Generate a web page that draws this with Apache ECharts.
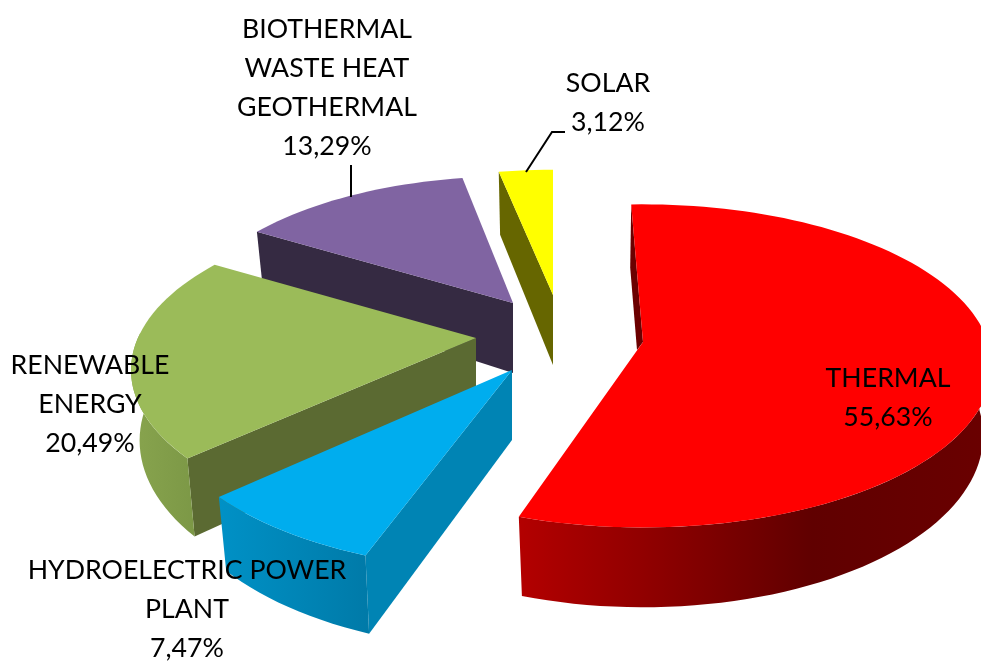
<!DOCTYPE html>
<html>
<head>
<meta charset="utf-8">
<style>html,body{margin:0;padding:0;background:#fff}#c{width:981px;height:662px}</style>
<script src="https://cdn.jsdelivr.net/npm/echarts@6/dist/echarts.min.js"></script>
</head>
<body>
<div id="c"></div>
<script>
// ---- data ----
const names = ['THERMAL', 'HYDROELECTRIC POWER\nPLANT', 'RENEWABLE\nENERGY', 'BIOTHERMAL\nWASTE HEAT\nGEOTHERMAL', 'SOLAR'];
const values = [55.63, 7.47, 20.49, 13.29, 3.12];

// ---- presentation ----
const topColors = ['#ff0000', '#00adee', '#9bbb59', '#8064a2', '#ffff00'];
const cutColors = ['#6b0000', '#0084b4', '#5b6a32', '#352a42', '#666600'];
const rimStops = [
  [[0, '#b30000'], [0.3, '#8c0000'], [0.62, '#600000'], [1, '#6a0000']],
  [[0, '#0091c6'], [1, '#007aa8']],
  [[0, '#88a44e'], [1, '#7c9846']],
  [[0, '#352a42'], [1, '#352a42']],
  [[0, '#666600'], [1, '#666600']]
];
const drawOrder = [3, 4, 2, 1, 0];            // back to front
const startAngle = -2;                        // degrees, clockwise from the back
const angleNudge = [-0.25, 2, 2.5, 3, 2];     // 3D view correction per slice
const scaleX = [1, 0.98, 0.985, 0.975, 0.96];
const scaleY = [1, 1, 0.985, 0.95, 0.945];
const depthScale = [1, 0.92, 1, 1, 1];
const perspectives = [0.148, 0.18, 0.2, 0.148, 0.148];
const centre = [575, 345];
const explode = [[68, -3], [-63, 25], [-99, -7], [-62, -42], [-22, -50]];
const radiusX = 345, radiusY = 158, depth = 68, lowerShrink = 0.975;
const cutApexDrop = [[-6, 8], [0, 70], [0, 70], [0, 70], [0, 70]];
const cutRimDrop = [63, null, null, null, 63];
const labelPos = [[888, 398], [187, 609], [90, 404], [327, 88], [608, 103]];
const leaders = [null, null, null, [[351, 165], [351, 197]], [[565, 132], [552, 132], [526, 172]]];

const sum = values.reduce((a, b) => a + b, 0);
const rad = d => d * Math.PI / 180;

function sliceGeom(i) {
  let acc = 0;
  for (let k = 0; k < i; k++) acc += values[k];
  const a0 = startAngle + angleNudge[i] + acc / sum * 360;
  const a1 = a0 + values[i] / sum * 360;
  const ax = centre[0] + explode[i][0], ay = centre[1] + explode[i][1];
  const oy = (342 - ay) / radiusY;
  const rim = deg => {
    const X = Math.sin(rad(deg)), Y = Math.cos(rad(deg));
    const s = 1 / (1 + perspectives[i] * (Y + oy));
    return { x: ax + scaleX[i] * radiusX * X * s, y: ay - scaleY[i] * radiusY * Y * s, s };
  };
  return { a0, a1, ax, ay, rim, d: depth * depthScale[i] };
}

function arcPts(g, from, to, lower) {
  const pts = [];
  const n = Math.max(2, Math.ceil(Math.abs(to - from) / 2));
  for (let k = 0; k <= n; k++) {
    const p = g.rim(from + (to - from) * k / n);
    pts.push(lower
      ? [g.ax + (p.x - g.ax) * lowerShrink, p.y + g.d * p.s]
      : [p.x, p.y]);
  }
  return pts;
}

function renderItem(params, api) {
  const i = api.value(0);
  const g = sliceGeom(i);
  const z = drawOrder.indexOf(i) * 5 + 1;
  const kids = [];
  const poly = (points, fill, zz) => kids.push({
    type: 'polygon', shape: { points }, style: { fill, stroke: null }, z2: zz
  });

  // cut face below the slice's leading edge
  const r0 = g.rim(g.a0);
  const drop = cutApexDrop[i];
  const rimX = g.ax + (r0.x - g.ax) * lowerShrink;
  const rimY = r0.y + (cutRimDrop[i] === null ? g.d * r0.s : cutRimDrop[i]);
  poly([[r0.x, r0.y], [i === 0 ? r0.x - 1 : rimX, rimY],
        [g.ax + drop[0], g.ay + drop[1]], [g.ax, g.ay]], cutColors[i], z);

  // outer wall: front half of the rim only
  const wallFrom = Math.max(g.a0, 90), wallTo = Math.min(g.a1, 272);
  if (wallTo > wallFrom) {
    const upper = arcPts(g, wallFrom, wallTo, false);
    const lower = arcPts(g, wallTo, wallFrom, true);
    poly(upper.concat(lower), {
      type: 'linear', x: 0, y: 0, x2: 1, y2: 0,
      colorStops: rimStops[i].map(s => ({ offset: s[0], color: s[1] }))
    }, z + 1);
  }

  // top surface
  poly([[g.ax, g.ay]].concat(arcPts(g, g.a0, g.a1, false)), topColors[i], z + 2);

  // leader
  if (leaders[i]) {
    kids.push({ type: 'polyline', shape: { points: leaders[i] },
      style: { stroke: '#000', lineWidth: 2, fill: null }, z2: 90 });
  }
  // label
  kids.push({
    type: 'text', z2: 100,
    style: {
      text: names[i] + '\n' + values[i].toFixed(2).replace('.', ',') + '%',
      x: labelPos[i][0], y: labelPos[i][1],
      align: 'center', verticalAlign: 'middle',
      font: '26.7px Lato', lineHeight: 39, fill: '#000'
    }
  });
  return { type: 'group', children: kids };
}

const chart = echarts.init(document.getElementById('c'), null, { renderer: 'canvas' });
chart.setOption({
  animation: false,
  backgroundColor: '#fff',
  series: [{
    type: 'custom',
    coordinateSystem: 'none',
    renderItem,
    data: values.map((v, i) => [i, v]),
    encode: { value: 1 },
    silent: true
  }]
});
</script>
</body>
</html>
